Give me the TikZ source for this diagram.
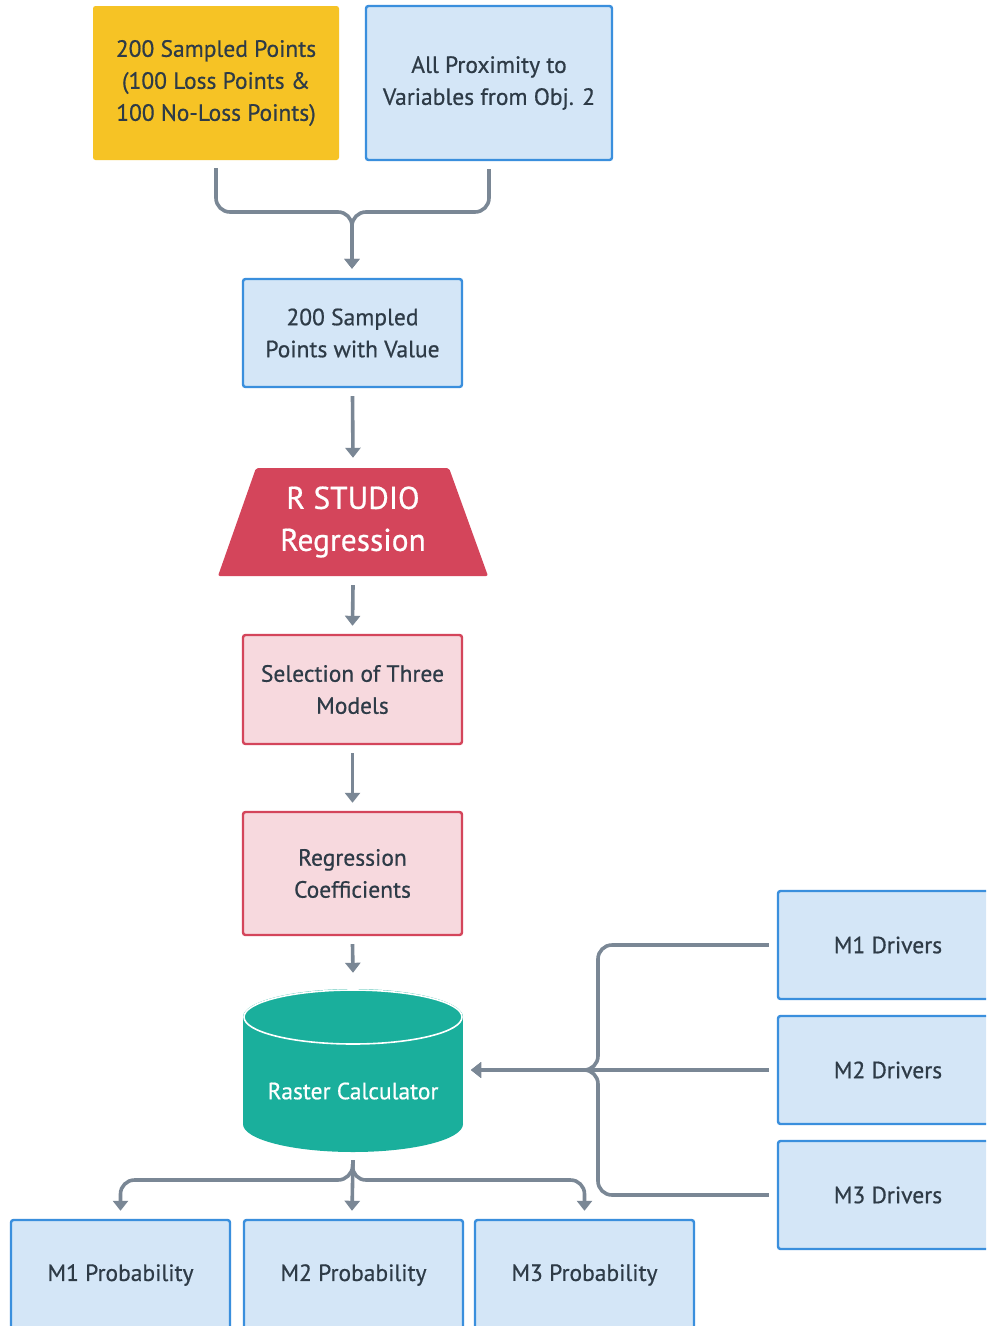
\documentclass[tikz,border=0pt]{standalone}
\usepackage{fontspec}
\setmainfont{PT Sans}[FakeBold=0.6]
\usetikzlibrary{arrows.meta}
\definecolor{ygold}{HTML}{F6C325}
\definecolor{bfill}{HTML}{D4E6F7}
\definecolor{bline}{HTML}{3A8FDD}
\definecolor{pfill}{HTML}{F7D9DE}
\definecolor{pline}{HTML}{D4455B}
\definecolor{teal}{HTML}{1AAF9C}
\definecolor{agray}{HTML}{7A8795}
\definecolor{tdark}{HTML}{2E3B47}
\tikzset{
  base/.style={rectangle, rounded corners=2.5pt, align=center, text=tdark, inner sep=0pt,
    font=\fontsize{23.5}{32}\selectfont},
  yellowbox/.style={base, fill=ygold},
  bluebox/.style={base, fill=bfill, draw=bline, line width=2.4pt},
  pinkbox/.style={base, fill=pfill, draw=pline, line width=2.4pt},
  conn/.style={draw=agray, line width=3.6pt, rounded corners=14pt},
  arr/.style={conn, -{Triangle[width=15pt,length=10pt]}},
}
\begin{document}
\begin{tikzpicture}[x=1pt,y=-1pt]
\clip (0,0) rectangle (986,1326);
\fill[white] (0,0) rectangle (986,1326);

% top boxes
\node[yellowbox, minimum width=246pt, minimum height=154pt] (ys) at (216,83)
  {200 Sampled Points\\(100 Loss Points \&\\100 No-Loss Points)};
\node[bluebox, minimum width=246pt, minimum height=154pt] (ap) at (489,83)
  {All Proximity to\\Variables from Obj. 2};

\node[bluebox, minimum width=219pt, minimum height=108pt] (sv) at (352.5,333)
  {200 Sampled\\Points with Value};

% trapezoid
\fill[pline, rounded corners=2pt] (256,468) -- (449,468) -- (488,576) -- (218,576) -- cycle;
\node[align=center, text=white, font=\fontsize{31.5}{42}\selectfont, minimum height=108pt] (rs) at (353,522)
  {R STUDIO\\Regression};

\node[pinkbox, minimum width=219pt, minimum height=109pt] (sm) at (352.5,689.5)
  {Selection of Three\\Models};
\node[pinkbox, minimum width=219pt, minimum height=123pt] (rcoef) at (352.5,873.5)
  {Regression\\Coefficients};

% cylinder
\node[minimum width=220pt, minimum height=164pt, inner sep=0pt] (rc) at (353,1070) {};
\fill[teal] (243,1017) rectangle (463,1124);
\fill[teal] (353,1124) ellipse [x radius=110, y radius=28];
\fill[teal] (353,1017) ellipse [x radius=110, y radius=28];
\draw[white, line width=1.6pt] (353,1017) ellipse [x radius=109, y radius=27];
\node[text=white, font=\fontsize{23.5}{32}\selectfont] (rct) at (353,1091) {Raster Calculator};

% drivers
\node[bluebox, minimum width=220pt, minimum height=108pt] (m1d) at (888,945) {M1 Drivers};
\node[bluebox, minimum width=220pt, minimum height=108pt] (m2d) at (888,1070) {M2 Drivers};
\node[bluebox, minimum width=220pt, minimum height=108pt] (m3d) at (888,1195) {M3 Drivers};

% probabilities
\node[bluebox, minimum width=219pt, minimum height=110pt] (p1) at (120.5,1275) {M1 Probability};
\node[bluebox, minimum width=219pt, minimum height=110pt] (p2) at (353.5,1275) {M2 Probability};
\node[bluebox, minimum width=219pt, minimum height=110pt] (p3) at (584.5,1275) {M3 Probability};

% connectors
\coordinate (j1) at (352,212);
\draw[arr] ([yshift=-8pt]ys.south) |- (j1) -- ([yshift=9pt]sv.north -| j1);
\draw[arr] ([yshift=-8pt]ap.south) |- (j1) -- ([yshift=9pt]sv.north -| j1);
\draw[arr] ([yshift=-8pt]sv.south) -- ([yshift=10pt]rs.north);
\draw[arr] ([yshift=-9pt]rs.south) -- ([yshift=8pt]sm.north);
\draw[arr] ([yshift=-8pt]sm.south) -- ([yshift=8pt]rcoef.north);
\draw[arr] ([yshift=-8pt]rcoef.south) -- ([yshift=15pt]rc.north);

\coordinate (rin) at (471,1070);
\coordinate (j2) at (598,1070);
\draw[arr] ([xshift=-8pt]m1d.west) -| (j2) -- (rin);
\draw[arr] ([xshift=-8pt]m3d.west) -| (j2) -- (rin);
\draw[arr] ([xshift=-8pt]m2d.west) -- (rin);

\coordinate (j3) at (352,1180);
\draw[arr] ([yshift=-8pt]rc.south) -- (j3) -| ([yshift=8pt]p1.north);
\draw[arr] ([yshift=-8pt]rc.south) -- (j3) -| ([yshift=8pt]p3.north);
\draw[arr] ([yshift=-8pt]rc.south) -- ([yshift=8pt]p2.north -| j3);
\end{tikzpicture}
\end{document}
